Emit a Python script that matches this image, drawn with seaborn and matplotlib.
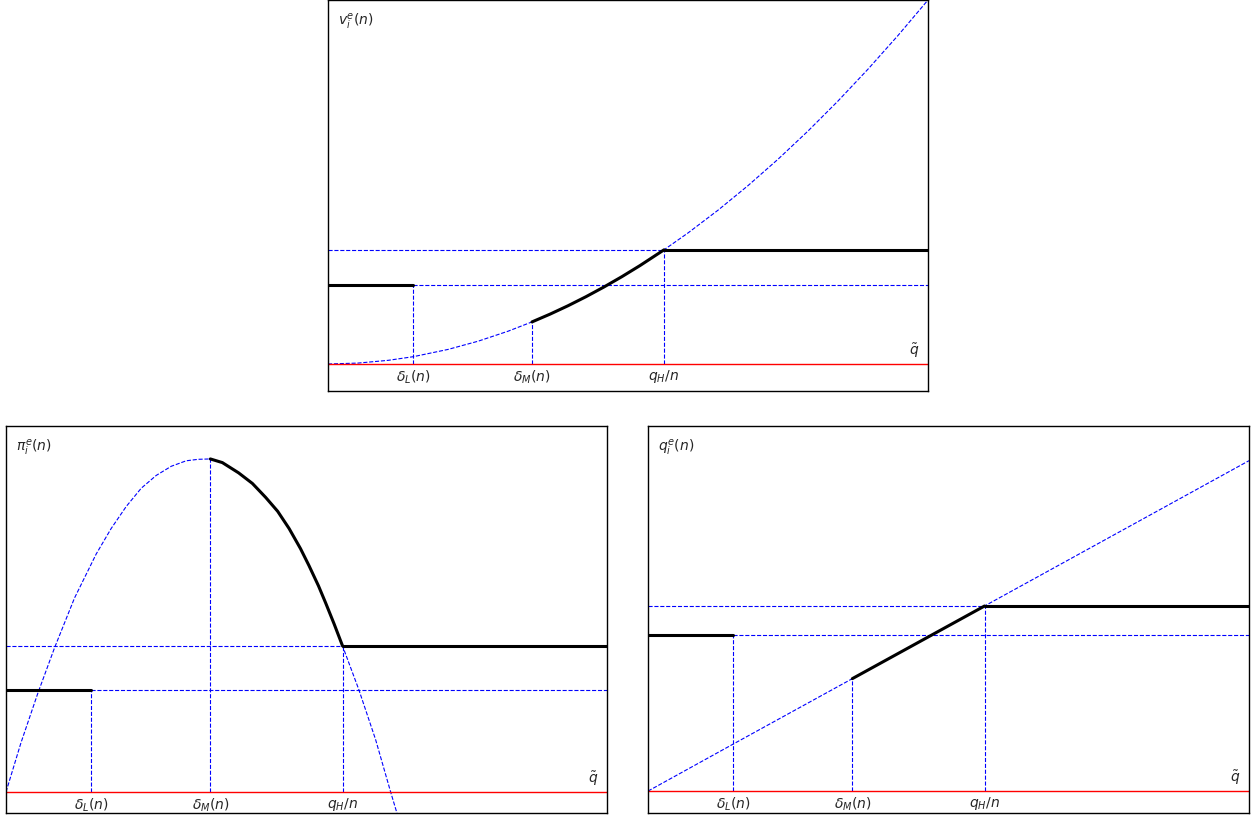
import numpy as np
import pandas as pd
import matplotlib
matplotlib.use("Agg")
import matplotlib.pyplot as plt
import seaborn as sns

sns.set_style("white")
plt.rcParams['font.family'] = ['DejaVu Sans']
plt.rcParams['mathtext.fontset'] = 'dejavusans'

# thresholds on the q~ axis
x_ticks = [0.142, 0.34, 0.56]
x_labels = [r"$\delta_L(n)$", r"$\delta_M(n)$", r"$q_H/n$"]

# v_i^e(n) curve
v_x = [0, 0.05, 0.1, 0.142, 0.2, 0.25, 0.3, 0.34, 0.37, 0.4, 0.43, 0.46,
       0.49, 0.52, 0.56, 0.6, 0.65, 0.7, 0.75, 0.8, 0.85, 0.9, 0.95, 1.0]
v_y = [0, 0.0025, 0.01, 0.02, 0.04, 0.0625, 0.09, 0.1156, 0.1369, 0.16,
       0.1849, 0.2116, 0.2401, 0.2704, 0.3136, 0.36, 0.4225, 0.49, 0.5625,
       0.64, 0.7225, 0.81, 0.9025, 1.0]
v_low = 0.217
v_high = 0.3136

# pi_i^e(n) curve
pi_x = [0, 0.025, 0.053, 0.081, 0.114, 0.15, 0.175, 0.2, 0.225, 0.25, 0.275,
        0.3, 0.32, 0.34, 0.36, 0.387, 0.41, 0.432, 0.452, 0.471, 0.49, 0.504,
        0.52, 0.532, 0.546, 0.56, 0.587, 0.615, 0.64, 0.66]
pi_y = [0, 0.135, 0.27, 0.395, 0.53, 0.65, 0.72, 0.78, 0.83, 0.865, 0.89,
        0.905, 0.909, 0.91, 0.90, 0.872, 0.843, 0.805, 0.767, 0.72, 0.665,
        0.619, 0.563, 0.516, 0.459, 0.399, 0.28, 0.143, 0.0, -0.11]
pi_low = 0.279
pi_high = 0.399

# q_i^e(n) line
q_x = [0, 0.142, 0.34, 0.56, 1.0]
q_y = [0, 0.129, 0.308, 0.507, 0.905]
q_low = 0.427
q_high = 0.507

W, H = 1255, 815
fig = plt.figure(figsize=(W / 100, H / 100), dpi=100)
ax_v = fig.add_axes([328 / W, (H - 391) / H, 600 / W, 391 / H])
ax_pi = fig.add_axes([6 / W, 2 / H, 601 / W, 387 / H])
ax_q = fig.add_axes([648 / W, 2 / H, 601 / W, 387 / H])

blue = dict(color="blue", lw=0.8, ls="--")


def draw(ax, cx, cy, low, high, ylim, title):
    d = pd.DataFrame({"x": cx, "y": cy})
    sns.lineplot(data=d, x="x", y="y", ax=ax, color="blue", lw=0.8,
                 linestyle="--", estimator=None, sort=False)
    # guide lines
    ax.hlines(high, 0, 1, **blue)
    ax.hlines(low, x_ticks[0], 1, **blue)
    ax.vlines(x_ticks[0], 0, low, **blue)
    ax.vlines(x_ticks[1], 0, np.interp(x_ticks[1], cx, cy), **blue)
    ax.vlines(x_ticks[2], 0, high, **blue)
    # equilibrium (black)
    ax.plot([0, x_ticks[0]], [low, low], color="black", lw=2.2)
    seg = d[(d.x >= x_ticks[1]) & (d.x <= x_ticks[2])]
    ax.plot(seg.x, seg.y, color="black", lw=2.2, solid_joinstyle="round")
    ax.plot([x_ticks[2], 1], [high, high], color="black", lw=2.2)
    ax.axhline(0, color="red", lw=1)
    ax.set_xlim(0, 1)
    ax.set_ylim(*ylim)
    ax.set_xticks([])
    ax.set_yticks([])
    ax.set_xlabel("")
    ax.set_ylabel("")
    for s in ax.spines.values():
        s.set_color("black")
        s.set_linewidth(1)
    for xv, lab in zip(x_ticks, x_labels):
        ax.annotate(lab, xy=(xv, 0), xytext=(0, -3), textcoords="offset points",
                    ha="center", va="top", fontsize=10)
    ax.annotate(r"$\tilde{q}$", xy=(1, 0), xytext=(-6, 3),
                textcoords="offset points", ha="right", va="bottom", fontsize=10)
    ax.text(10 / 600, 1 - 22 / 391, title, transform=ax.transAxes,
            ha="left", va="center", fontsize=10)


draw(ax_v, v_x, v_y, v_low, v_high, (-0.0742, 1.0), r"$v_i^e(n)$")
draw(ax_pi, pi_x, pi_y, pi_low, pi_high, (-0.0574, 1.0), r"$\pi_i^e(n)$")
draw(ax_q, q_x, q_y, q_low, q_high, (-0.060, 1.0), r"$q_i^e(n)$")

fig.savefig("out.png", dpi=100)
